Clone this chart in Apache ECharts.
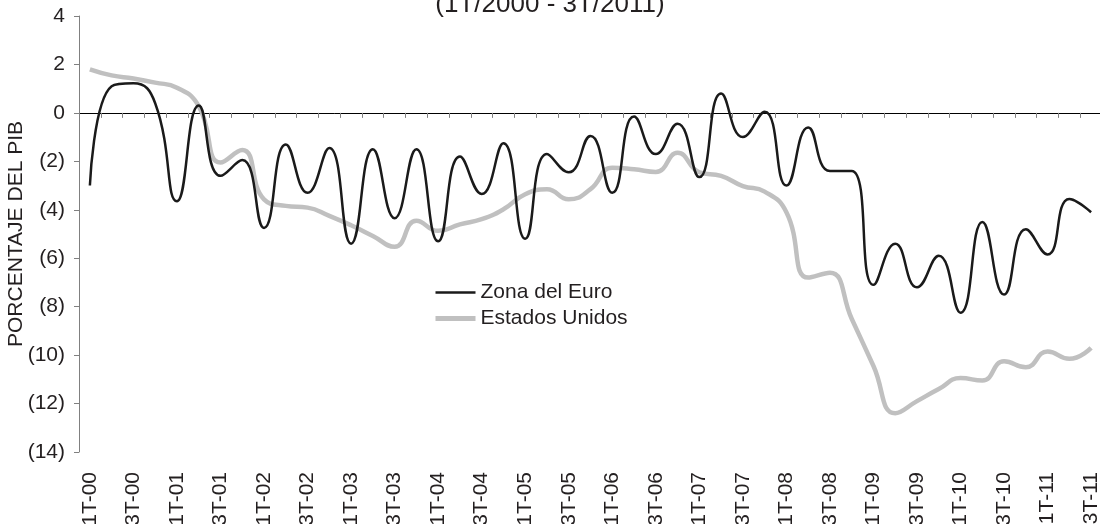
<!DOCTYPE html>
<html>
<head>
<meta charset="utf-8">
<script src="https://cdn.jsdelivr.net/npm/echarts@6/dist/echarts.min.js"></script>
<style>
html,body{margin:0;padding:0;background:#fff;}
#c{width:1100px;height:524px;}
</style>
</head>
<body>
<div id="c"></div>
<script>
const categories = [
 '1T-00','2T-00','3T-00','4T-00','1T-01','2T-01','3T-01','4T-01',
 '1T-02','2T-02','3T-02','4T-02','1T-03','2T-03','3T-03','4T-03',
 '1T-04','2T-04','3T-04','4T-04','1T-05','2T-05','3T-05','4T-05',
 '1T-06','2T-06','3T-06','4T-06','1T-07','2T-07','3T-07','4T-07',
 '1T-08','2T-08','3T-08','4T-08','1T-09','2T-09','3T-09','4T-09',
 '1T-10','2T-10','3T-10','4T-10','1T-11','2T-11','3T-11'
];
const zonaEuro = [-3.0, 1.1, 1.22, 0.4, -3.65, 0.3, -2.6, -1.95, -4.75, -1.3, -3.3, -1.45,
 -5.4, -1.5, -4.35, -1.5, -5.3, -1.8, -3.35, -1.25, -5.2, -1.7, -2.45, -0.95,
 -3.3, -0.15, -1.7, -0.45, -2.65, 0.8, -1.0, 0.05, -3.0, -0.6, -2.4, -2.4,
 -7.1, -5.4, -7.2, -5.9, -8.25, -4.5, -7.5, -4.8, -5.85, -3.55, -4.1];
const estadosUnidos = [1.8, 1.55, 1.42, 1.25, 1.04, 0.28, -2.05, -1.53, -3.57, -3.84, -3.91, -4.25,
 -4.64, -5.08, -5.53, -4.45, -4.87, -4.6, -4.39, -3.98, -3.36, -3.15, -3.57, -3.15,
 -2.26, -2.33, -2.44, -1.65, -2.45, -2.6, -3.02, -3.25, -4.1, -6.8, -6.6, -8.5,
 -10.45, -12.4, -11.9, -11.4, -10.95, -11.05, -10.25, -10.5, -9.85, -10.15, -9.7];
const yTicks = {min: -14, max: 4, step: 2};
const titleText = '(1T/2000 - 3T/2011)';
const yName = 'PORCENTAJE DEL PIB';

const FONT = "'Liberation Sans', Arial, sans-serif";
const TXT = '#231f20';
const chart = echarts.init(document.getElementById('c'), null, {renderer: 'canvas'});
chart.setOption({
  animation: false,
  textStyle: {fontFamily: FONT},
  title: {
    text: titleText, left: 'center', top: -13,
    textStyle: {fontSize: 26, fontWeight: 'normal', color: TXT, fontFamily: FONT}
  },
  legend: {
    orient: 'vertical', left: 428, top: 277,
    itemWidth: 40, itemHeight: 14, itemGap: 5,
    data: [
      {name: 'Zona del Euro', lineStyle: {width: 2.5, color: '#1a1a1a'}},
      {name: 'Estados Unidos', lineStyle: {width: 5, color: '#c0c0c0'}}
    ],
    itemStyle: {color: 'rgba(0,0,0,0)', borderWidth: 0, opacity: 0},
    textStyle: {fontSize: 21, color: TXT, fontFamily: FONT}
  },
  grid: {left: 79, top: 16, width: 1023, height: 436, containLabel: false, outerBoundsMode: 'none'},
  xAxis: [{
    type: 'category', data: categories, boundaryGap: true,
    axisLine: {show: true, onZero: true, lineStyle: {color: '#000', width: 1}},
    axisTick: {show: true, interval: 0, length: 5, lineStyle: {color: '#808080'}},
    axisLabel: {show: false}, splitLine: {show: false}
  }, {
    type: 'category', data: categories, boundaryGap: true, position: 'bottom',
    axisLine: {show: false, onZero: false}, axisTick: {show: false},
    axisLabel: {show: true, interval: 1, rotate: 90, margin: 20, fontSize: 21, color: TXT, fontFamily: FONT},
    splitLine: {show: false}
  }],
  yAxis: {
    type: 'value', min: yTicks.min, max: yTicks.max, interval: yTicks.step,
    name: yName, nameLocation: 'middle', nameGap: 52, nameMoveOverlap: false,
    nameTextStyle: {fontSize: 21, color: TXT, fontFamily: FONT},
    axisLine: {show: true, lineStyle: {color: '#808080', width: 1}},
    axisTick: {show: true, length: 5, lineStyle: {color: '#808080'}},
    axisLabel: {
      fontSize: 21, color: TXT, margin: 14, fontFamily: FONT,
      formatter: v => v < 0 ? '(' + (-v) + ')' : String(v)
    },
    splitLine: {show: false}
  },
  series: [{
    name: 'Estados Unidos', type: 'line', data: estadosUnidos, xAxisIndex: 0,
    smooth: 0.5, symbol: 'none', showSymbol: false,
    lineStyle: {color: '#c0c0c0', width: 4.5}, itemStyle: {color: '#c0c0c0'}, z: 2
  }, {
    name: 'Zona del Euro', type: 'line', data: zonaEuro, xAxisIndex: 0,
    smooth: 0.5, symbol: 'none', showSymbol: false,
    lineStyle: {color: '#1a1a1a', width: 2.5}, itemStyle: {color: '#1a1a1a'}, z: 3
  }]
});
</script>
</body>
</html>
